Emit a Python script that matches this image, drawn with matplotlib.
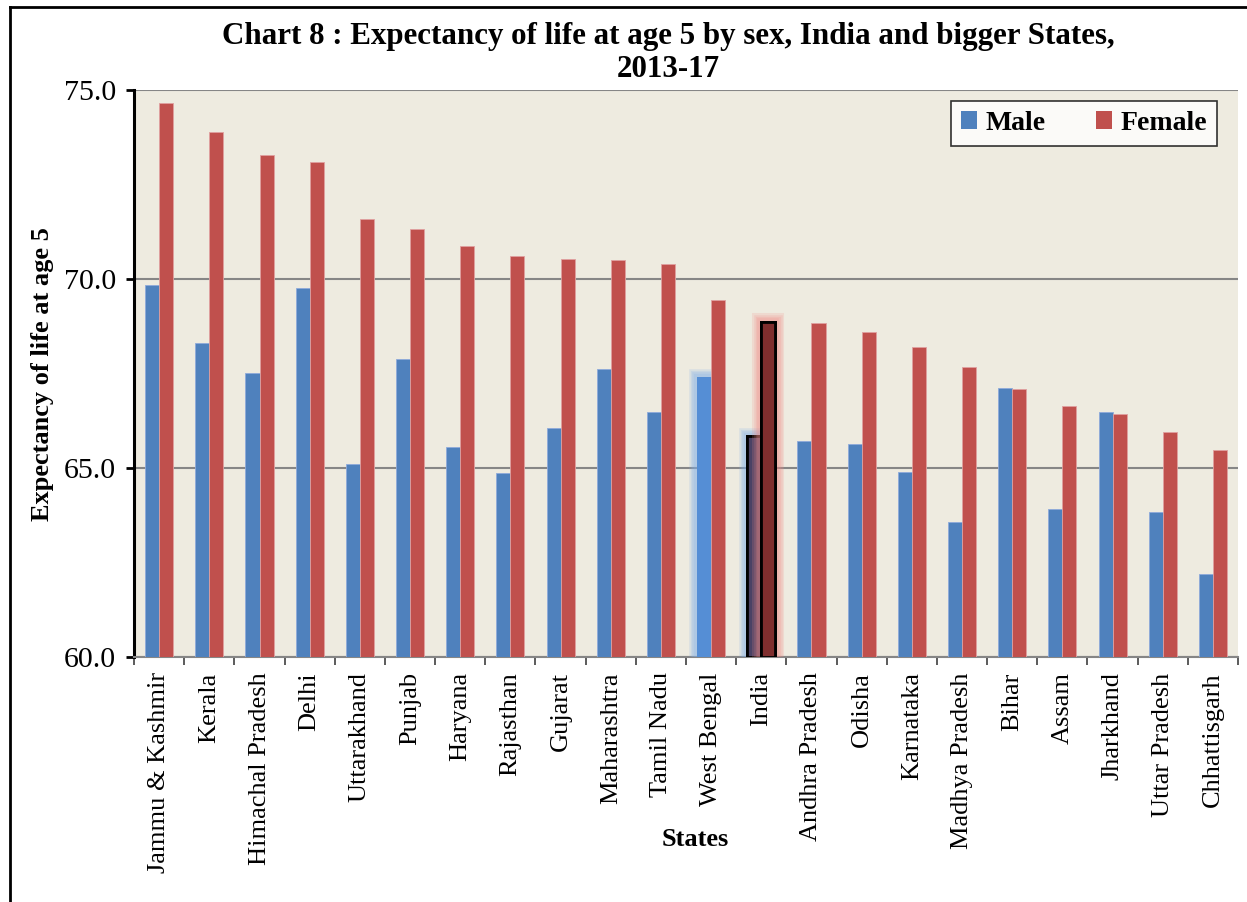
import numpy as np
import matplotlib
matplotlib.use("Agg")
from matplotlib import pyplot as plt
from matplotlib import patheffects as pe
from matplotlib.lines import Line2D

plt.rcParams["font.family"] = ["Liberation Serif", "DejaVu Serif"]

estados = ["Jammu & Kashmir", "Kerala", "Himachal Pradesh", "Delhi", "Uttarakhand",
           "Punjab", "Haryana", "Rajasthan", "Gujarat", "Maharashtra", "Tamil Nadu",
           "West Bengal", "India", "Andhra Pradesh", "Odisha", "Karnataka",
           "Madhya Pradesh", "Bihar", "Assam", "Jharkhand", "Uttar Pradesh", "Chhattisgarh"]
hombres = [69.84, 68.32, 67.51, 69.78, 65.12, 67.89, 65.56, 64.87, 66.07, 67.63, 66.49,
           67.42, 65.85, 65.72, 65.63, 64.90, 63.58, 67.12, 63.92, 66.48, 63.85, 62.19]
mujeres = [74.66, 73.91, 73.29, 73.10, 71.59, 71.32, 70.89, 70.63, 70.54, 70.51, 70.41,
           69.46, 68.88, 68.84, 68.60, 68.21, 67.69, 67.10, 66.65, 66.43, 65.97, 65.48]
yticks = [60.0, 65.0, 70.0, 75.0]


def brillo(color, ancho_max):
    # varias capas suaves para imitar el resplandor de Excel
    capas = []
    for k in range(4):
        capas.append(pe.withStroke(linewidth=ancho_max - 2.5 * k, foreground=color, alpha=0.18))
    capas.append(pe.Normal())
    return capas


fig = plt.figure(figsize=(12.47, 9.02), dpi=100)
ax = fig.add_axes([0.1075, 0.2716, 0.8853, 0.6281])
ax.set_facecolor("#EEEBE0")

x = np.arange(len(estados))
ancho = 0.28
azul = ["#4F81BD"] * len(estados)
rojo = ["#C0504D"] * len(estados)
iwb = estados.index("West Bengal")
ind = estados.index("India")
azul[iwb] = "#558ED5"
azul[ind] = "#4A4265"
rojo[ind] = "#7F2E2E"

bm = ax.bar(x - ancho / 2, np.array(hombres) - 60, ancho, bottom=60, color=azul,
            edgecolor="#8EAADB", linewidth=0.6, zorder=3, label="Male")
bf = ax.bar(x + ancho / 2, np.array(mujeres) - 60, ancho, bottom=60, color=rojo,
            edgecolor="#E0A0A0", linewidth=0.6, zorder=3, label="Female")

# resaltado de India y West Bengal
bm[iwb].set_edgecolor("#558ED5")
bm[iwb].set_path_effects(brillo("#7FAEE8", 12))
bm[ind].set_edgecolor("black")
bm[ind].set_linewidth(2)
bm[ind].set_path_effects(brillo("#7FAEE8", 12))
bf[ind].set_edgecolor("black")
bf[ind].set_linewidth(2)
bf[ind].set_path_effects(brillo("#EE8A85", 13))

ax.set_ylim(60, 75)
ax.set_xlim(-0.5, len(estados) - 0.5)
ax.set_yticks(yticks)
ax.set_yticklabels(["%.1f" % v for v in yticks], fontsize=21.5)
ax.yaxis.grid(True, color="#868686", linewidth=1.5, zorder=1)
ax.set_axisbelow(True)

ax.set_xticks(x)
ax.set_xticklabels(estados, rotation=90, fontsize=19)
ax.set_xticks(np.arange(-0.5, len(estados)), minor=True)
ax.tick_params(axis="x", which="major", length=0, pad=11)
ax.tick_params(axis="x", which="minor", length=6, width=1.2, color="#404040")
ax.tick_params(axis="y", length=6, width=2, pad=7)

for s in ["top", "right"]:
    ax.spines[s].set_visible(False)
ax.spines["left"].set_linewidth(2.2)
ax.spines["bottom"].set_color("#868686")
ax.spines["bottom"].set_linewidth(1.5)

ax.set_ylabel("Expectancy of life at age 5", fontsize=19, fontweight="bold", labelpad=7)
fig.text(695 / 1247, 1 - 840 / 902, "States", fontsize=19, fontweight="bold",
         ha="center", va="center")

fig.text(668 / 1247, 1 - 53 / 902,
         "Chart 8 : Expectancy of life at age 5 by sex, India and bigger States,\n2013-17",
         fontsize=22.3, fontweight="bold", ha="center", va="center", linespacing=1.2)

leg = ax.legend(loc="upper right", bbox_to_anchor=(0.981, 0.981), borderaxespad=0, ncol=2,
                prop={"weight": "bold", "size": 20}, frameon=True, fancybox=False,
                edgecolor="black", handlelength=0.6, handleheight=0.6,
                handletextpad=0.3, columnspacing=1.8, borderpad=0.35)
leg.get_frame().set_linewidth(1.2)
leg.legend_handles[0].set_facecolor("#4F81BD")
leg.legend_handles[1].set_facecolor("#C0504D")
for h in leg.legend_handles:
    h.set_path_effects([])
    h.set_edgecolor("none")
    h.set_linewidth(0)

# marco exterior del grafico
fig.add_artist(Line2D([10 / 1247, 10 / 1247], [0, 1 - 7 / 902], color="black", linewidth=2))
fig.add_artist(Line2D([10 / 1247, 1], [1 - 7 / 902, 1 - 7 / 902], color="black", linewidth=2))

fig.savefig("out.png", dpi=100)
